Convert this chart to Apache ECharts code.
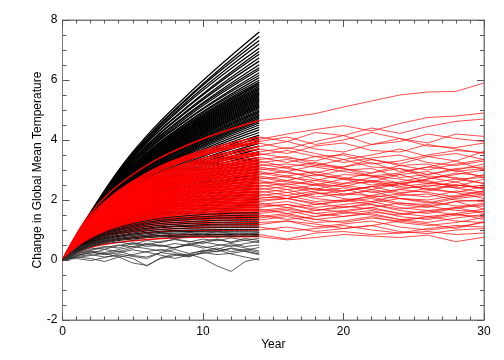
<!DOCTYPE html>
<html>
<head>
<meta charset="utf-8">
<script src="https://cdn.jsdelivr.net/npm/echarts@6/dist/echarts.min.js"></script>
<style>html,body{margin:0;padding:0;background:#fff}#c{width:504px;height:360px}</style>
</head>
<body>
<div id="c"></div>
<script>
// Years at which values were read
const smoothYears = [0, 2, 5, 9, 14];
const noisyYears = [0,1,2,3,4,5,6,7,8,9,10,11,12,13,14];
const rightYears = [14,16,18,20,22,24,26,28,30];
const xTicks = [0, 10, 20, 30];
const yTicks = [-2, 0, 2, 4, 6, 8];

// Black runs (values at smoothYears)
const blackLines = [
[0,1.60,3.60,5.55,7.60],[0,1.58,3.55,5.45,7.45],[0,1.57,3.52,5.42,7.32],[0,1.55,3.48,5.33,7.20],
[0,1.56,3.45,5.27,7.06],[0,1.54,3.42,5.16,6.95],[0,1.52,3.41,5.13,6.86],[0,1.53,3.36,5.03,6.74],
[0,1.50,3.33,4.99,6.63],[0,1.51,3.30,4.90,6.51],[0,1.49,3.28,4.87,6.41],[0,1.48,3.23,4.81,6.34],
[0,1.47,3.22,4.73,6.24],[0,1.46,3.19,4.71,6.16],[0,1.45,3.14,4.63,6.08],[0,1.45,3.13,4.61,5.99],
[0,1.44,3.10,4.56,5.93],[0,1.44,3.09,4.52,5.88],[0,1.43,3.08,4.49,5.84],[0,1.42,3.05,4.46,5.79],
[0,1.42,3.03,4.43,5.74],[0,1.41,3.01,4.40,5.70],[0,1.41,3.00,4.37,5.66],[0,1.40,2.98,4.34,5.61],
[0,1.40,2.97,4.31,5.57],[0,1.39,2.95,4.28,5.53],[0,1.38,2.93,4.25,5.49],[0,1.38,2.91,4.22,5.45],
[0,1.37,2.90,4.19,5.41],[0,1.37,2.88,4.16,5.37],[0,1.36,2.86,4.13,5.33],[0,1.35,2.85,4.10,5.29],
[0,1.35,2.83,4.07,5.25],[0,1.34,2.81,4.04,5.21],[0,1.34,2.79,4.01,5.17],[0,1.33,2.77,3.98,5.13],
[0,1.32,2.76,3.95,5.09],[0,1.32,2.74,3.92,5.05],[0,1.31,2.72,3.89,5.00],[0,1.30,2.70,3.86,4.96],
[0,1.30,2.69,3.83,4.92],[0,1.29,2.66,3.79,4.87],[0,1.28,2.64,3.75,4.82],[0,1.28,2.62,3.72,4.78],
[0,1.27,2.60,3.68,4.73],[0,1.26,2.58,3.65,4.68],[0,1.26,2.56,3.61,4.63],[0,1.25,2.55,3.57,4.57],
[0,1.24,2.52,3.53,4.50],[0,1.23,2.50,3.48,4.42],[0,1.22,2.47,3.43,4.34],[0,1.21,2.44,3.38,4.25],
[0,1.20,2.41,3.32,4.16],[0,1.19,2.38,3.27,4.08],[0,1.17,2.34,3.21,3.98],[0,1.16,2.30,3.15,3.89],
[0,1.14,2.26,3.09,3.80],[0,1.13,2.22,3.02,3.70],[0,1.11,2.18,2.96,3.61],[0,1.10,2.14,2.90,3.52],
[0,1.08,2.10,2.83,3.42],[0,1.06,2.06,2.77,3.33],[0,1.05,2.02,2.70,3.23],[0,1.03,1.97,2.63,3.13],
[0,1.01,1.93,2.57,3.04],[0,0.99,1.89,2.50,2.94],[0,0.98,1.85,2.44,2.85],[0,0.96,1.80,2.37,2.75],
[0,0.94,1.76,2.30,2.66],[0,0.92,1.72,2.24,2.57],[0,0.90,1.67,2.17,2.48],[0,0.88,1.62,2.10,2.38],
[0,0.86,1.58,2.03,2.29],[0,0.84,1.53,1.96,2.20],[0,0.82,1.49,1.90,2.11],[0,0.80,1.44,1.83,2.02],
[0,0.78,1.39,1.76,1.93],[0,0.76,1.35,1.69,1.84],[0,0.74,1.30,1.62,1.76],[0,0.72,1.26,1.55,1.67],
[0,0.70,1.21,1.48,1.58],[0,0.68,1.16,1.41,1.50],[0,0.66,1.12,1.35,1.42],[0,0.64,1.08,1.28,1.35],
[0,0.62,1.03,1.22,1.28],[0,0.60,0.99,1.16,1.21],[0,0.58,0.95,1.12,1.14],[0,0.56,0.90,1.06,1.08],
[0,0.54,0.86,1.00,1.02],[0,0.52,0.82,0.95,0.96],[0,0.50,0.78,0.90,0.90],[0,0.48,0.74,0.84,0.85],
[0,0.45,0.70,0.79,0.80]
];

// Black runs that stay near zero (values at noisyYears)
const blackNoisy = [
[0,0.10,0.05,-0.05,0.10,-0.10,-0.18,0.05,0.15,0.20,0.05,-0.20,-0.38,-0.05,0.05],
[0,0.15,0.25,0.20,0.30,0.15,0.10,0.25,0.18,0.10,0.28,0.35,0.20,0.10,0.00],
[0,0.25,0.35,0.45,0.40,0.55,0.45,0.50,0.40,0.55,0.45,0.35,0.50,0.40,0.30],
[0,0.05,-0.02,0.08,0.20,0.12,0.05,0.25,0.35,0.22,0.30,0.40,0.28,0.35,0.25],
[0,0.30,0.45,0.55,0.60,0.52,0.65,0.58,0.70,0.62,0.55,0.68,0.60,0.72,0.65],
[0,0.20,0.30,0.25,0.35,0.45,0.38,0.30,0.42,0.50,0.40,0.48,0.55,0.45,0.50],
[0,0.35,0.50,0.62,0.70,0.66,0.75,0.80,0.72,0.78,0.85,0.76,0.82,0.88,0.80],
[0,0.12,0.18,0.10,0.15,0.05,-0.20,0.08,0.20,0.12,0.25,0.18,0.22,0.30,0.20],
[0,0.40,0.55,0.68,0.75,0.85,0.80,0.90,0.82,0.92,0.86,0.95,0.88,0.84,0.92],
[0,0.18,0.22,0.35,0.28,0.40,0.52,0.45,0.55,0.48,0.60,0.52,0.45,0.55,0.62],
[0,0.08,0.15,0.22,0.10,0.18,0.28,0.35,0.25,0.15,0.22,0.30,0.38,0.28,0.18],
[0,0.28,0.40,0.36,0.48,0.58,0.50,0.62,0.68,0.60,0.70,0.64,0.74,0.66,0.58],
[0,0.22,0.32,0.42,0.50,0.44,0.56,0.48,0.40,0.52,0.62,0.70,0.58,0.66,0.72],
[0,0.14,0.28,0.18,0.24,0.34,0.26,0.16,0.05,0.17,0.33,0.27,0.40,0.32,0.42]
];

// Red runs: values at smoothYears (first 5), then at rightYears 16..30
const redLines = [
[0,1.55,2.85,3.85,4.65, 4.75,4.88,5.10,5.30,5.50,5.60,5.62,5.90],
[0,1.45,2.60,3.45,4.02, 4.20,4.35,4.48,4.30,4.55,4.75,4.80,4.90],
[0,1.45,2.62,3.50,4.10, 3.95,4.25,4.15,4.40,4.22,4.45,4.62,4.70],
[0,1.42,2.55,3.40,3.95, 4.10,3.85,4.00,4.25,4.05,3.90,4.20,4.12],
[0,1.40,2.50,3.35,3.90, 3.70,3.95,4.15,3.85,3.95,4.20,4.05,3.95],
[0,1.38,2.45,3.25,3.78, 3.95,3.70,3.60,3.85,4.05,3.80,3.75,3.90],
[0,1.37,2.42,3.20,3.70, 3.55,3.80,3.90,3.65,3.60,3.85,3.70,3.55],
[0,1.35,2.38,3.15,3.60, 3.75,3.55,3.35,3.50,3.70,3.45,3.30,3.62],
[0,1.33,2.35,3.10,3.55, 3.40,3.30,3.55,3.35,3.20,3.45,3.55,3.35],
[0,1.32,2.32,3.05,3.50, 3.65,3.45,3.25,3.40,3.50,3.25,3.15,3.30],
[0,1.30,2.28,3.00,3.42, 3.25,3.45,3.50,3.20,3.30,3.50,3.65,3.58],
[0,1.30,2.25,2.95,3.35, 3.45,3.20,3.10,3.35,3.15,3.00,3.20,3.35],
[0,1.28,2.22,2.90,3.30, 3.10,3.25,3.05,2.90,3.15,3.20,2.95,3.05],
[0,1.27,2.20,2.86,3.25, 3.35,3.15,3.35,3.10,3.05,2.85,3.00,3.20],
[0,1.26,2.17,2.82,3.20, 3.05,2.90,3.10,3.25,2.95,3.10,3.30,3.00],
[0,1.25,2.15,2.78,3.15, 3.20,3.10,2.95,2.80,2.70,2.55,2.50,2.40],
[0,1.24,2.12,2.74,3.10, 2.95,3.15,3.05,2.80,2.90,3.10,3.00,2.75],
[0,1.23,2.10,2.70,3.05, 2.90,2.80,3.00,3.05,2.75,2.85,3.05,3.10],
[0,1.22,2.08,2.66,3.00, 3.10,2.85,2.70,2.90,3.05,2.75,2.60,2.85],
[0,1.20,2.05,2.62,2.95, 2.80,2.95,2.75,2.60,2.85,2.95,2.70,2.55],
[0,1.19,2.02,2.58,2.90, 2.75,2.65,2.85,2.80,2.55,2.70,2.90,2.80],
[0,1.18,2.00,2.55,2.85, 2.95,2.70,2.55,2.75,2.85,2.60,2.45,2.70],
[0,1.17,1.97,2.50,2.80, 2.65,2.85,2.70,2.50,2.60,2.80,2.75,2.55],
[0,1.16,1.95,2.46,2.75, 2.60,2.50,2.70,2.65,2.45,2.55,2.70,2.75],
[0,1.15,1.92,2.42,2.70, 2.80,2.55,2.45,2.65,2.55,2.35,2.50,2.40],
[0,1.14,1.90,2.38,2.65, 2.50,2.65,2.50,2.35,2.55,2.65,2.40,2.50],
[0,1.13,1.87,2.35,2.60, 2.45,2.35,2.55,2.60,2.40,2.45,2.60,2.35],
[0,1.12,1.85,2.31,2.55, 2.65,2.50,2.30,2.45,2.55,2.35,2.25,2.45],
[0,1.11,1.82,2.27,2.50, 2.35,2.50,2.45,2.25,2.35,2.50,2.40,2.25],
[0,1.10,1.80,2.23,2.45, 2.55,2.35,2.30,2.45,2.25,2.30,2.50,2.40],
[0,1.09,1.77,2.20,2.40, 2.25,2.40,2.20,2.15,2.35,2.25,2.10,2.30],
[0,1.08,1.75,2.16,2.35, 2.45,2.25,2.15,2.35,2.20,2.10,2.30,2.20],
[0,1.07,1.72,2.12,2.30, 2.15,2.30,2.40,2.10,2.20,2.40,2.25,2.05],
[0,1.06,1.70,2.08,2.25, 2.35,2.10,2.20,2.30,2.05,2.00,2.15,2.30],
[0,1.05,1.67,2.04,2.20, 2.05,2.25,2.05,1.95,2.15,2.20,2.00,1.95],
[0,1.04,1.65,2.00,2.15, 2.25,2.05,1.95,2.15,2.05,1.90,2.10,2.20],
[0,1.03,1.62,1.96,2.10, 2.05,2.20,2.30,2.45,2.50,2.70,2.85,3.00],
[0,1.02,1.60,1.92,2.05, 2.15,1.95,2.00,2.10,1.90,1.85,2.05,2.15],
[0,1.00,1.57,1.88,2.00, 2.05,1.90,1.75,1.90,2.05,1.95,1.80,1.80],
[0,0.99,1.55,1.84,1.95, 2.05,1.85,1.95,2.05,1.85,1.75,1.95,2.00],
[0,0.98,1.52,1.80,1.90, 1.75,1.85,2.00,1.85,1.70,1.80,1.95,1.70],
[0,0.97,1.50,1.76,1.85, 1.95,1.75,1.85,1.95,1.75,1.65,1.75,1.90],
[0,0.95,1.47,1.72,1.80, 1.85,1.70,1.60,1.75,1.90,1.80,1.65,1.62],
[0,0.94,1.44,1.68,1.75, 1.85,1.65,1.75,1.85,1.65,1.55,1.72,1.85],
[0,0.92,1.40,1.63,1.70, 1.55,1.65,1.80,1.70,1.55,1.60,1.75,1.55],
[0,0.90,1.36,1.58,1.65, 1.75,1.55,1.65,1.75,1.55,1.45,1.55,1.70],
[0,0.88,1.32,1.53,1.60, 1.70,1.55,1.45,1.60,1.50,1.65,1.50,1.45],
[0,0.86,1.28,1.48,1.55, 1.65,1.45,1.55,1.65,1.45,1.35,1.50,1.62],
[0,0.84,1.24,1.43,1.50, 1.35,1.45,1.60,1.50,1.35,1.40,1.55,1.35],
[0,0.82,1.20,1.38,1.45, 1.55,1.35,1.45,1.55,1.35,1.25,1.40,1.52],
[0,0.80,1.16,1.33,1.40, 1.50,1.35,1.25,1.40,1.30,1.45,1.30,1.25],
[0,0.77,1.11,1.27,1.33, 1.45,1.25,1.30,1.45,1.25,1.15,1.25,1.42],
[0,0.74,1.06,1.21,1.25, 1.30,1.20,1.05,1.15,1.30,1.20,1.05,1.28],
[0,0.70,1.00,1.14,1.18, 1.30,1.10,1.20,1.30,1.10,1.00,1.10,1.25],
[0,0.66,0.94,1.07,1.10, 0.95,1.05,1.15,1.00,0.90,1.05,1.15,1.10],
[0,0.60,0.86,0.98,1.00, 1.10,0.95,1.05,1.15,0.95,0.88,1.00,1.05],
[0,0.50,0.74,0.84,0.85, 0.70,0.90,0.95,0.85,0.90,0.95,0.85,0.90],
[0,0.42,0.64,0.76,0.78, 0.67,0.75,0.85,0.80,0.75,0.83,0.61,0.76]
];

const chart = echarts.init(document.getElementById('c'));
const axisColor = '#7a7a7a';
const tickColor = '#555555';
const font = 'Liberation Sans, Arial, Helvetica, sans-serif';

function xAxisDef(pos, showLabel, name) {
  const a = {
    type: 'value', position: pos, min: xTicks[0], max: xTicks[xTicks.length - 1], interval: 10,
    axisLine: {show: true, onZero: false, lineStyle: {color: axisColor, width: 1}},
    axisTick: {show: true, inside: true, length: 7, lineStyle: {color: tickColor, width: 1}},
    minorTick: {show: true, splitNumber: 10, length: 3.5, lineStyle: {color: tickColor, width: 1}},
    axisLabel: {show: showLabel, color: '#000', fontSize: 12, fontFamily: font, margin: 6},
    splitLine: {show: false}
  };
  if (name) {
    a.name = name; a.nameLocation = 'middle'; a.nameGap = 19; a.nameMoveOverlap = false;
    a.nameTextStyle = {color: '#000', fontSize: 12, fontFamily: font};
  }
  return a;
}
function yAxisDef(pos, showLabel, name) {
  const a = {
    type: 'value', position: pos, min: yTicks[0], max: yTicks[yTicks.length - 1], interval: 2,
    axisLine: {show: true, onZero: false, lineStyle: {color: axisColor, width: 1}},
    axisTick: {show: true, inside: true, length: 7, lineStyle: {color: tickColor, width: 1}},
    minorTick: {show: true, splitNumber: 4, length: 4, lineStyle: {color: tickColor, width: 1}},
    axisLabel: {show: showLabel, color: '#000', fontSize: 12, fontFamily: font, margin: 5},
    splitLine: {show: false}
  };
  if (name) {
    a.name = name; a.nameLocation = 'middle'; a.nameGap = 19; a.nameMoveOverlap = false;
    a.nameTextStyle = {color: '#000', fontSize: 12, fontFamily: font};
  }
  return a;
}

const series = [];
function addLine(xs, ys, color, width, smooth, axisIdx) {
  series.push({
    type: 'line', xAxisIndex: axisIdx, yAxisIndex: axisIdx,
    data: xs.map((x, i) => [x, ys[i]]),
    showSymbol: false, symbol: 'none', smooth: smooth, silent: true,
    lineStyle: {color: color, width: width}
  });
}
// higher black runs first
blackLines.filter(l => l[4] >= 1.6).forEach(l => addLine(smoothYears, l, '#000', 1.3, 0.4, 0));
// red runs, left part
redLines.forEach(l => addLine(smoothYears, l.slice(0, 5), '#ff0000', 1.5, 0.4, 0));
// lower black runs over red
blackLines.filter(l => l[4] < 1.6).forEach(l => addLine(smoothYears, l, '#111', 1.0, 0.4, 0));
blackNoisy.forEach(l => addLine(noisyYears, l, '#333', 0.8, false, 0));
// red runs, right part (on the twin top/right axes, same scale)
redLines.forEach(l => addLine(rightYears, l.slice(4), '#ff1010', 0.75, false, 1));

chart.setOption({
  animation: false,
  backgroundColor: '#fff',
  grid: {left: 62.5, right: 20, top: 20, bottom: 40, show: true, borderColor: axisColor, borderWidth: 1, backgroundColor: 'transparent'},
  xAxis: [xAxisDef('bottom', true, 'Year'), xAxisDef('top', false, null)],
  yAxis: [yAxisDef('left', true, 'Change in Global Mean Temperature'), yAxisDef('right', false, null)],
  series: series
});
</script>
</body>
</html>
